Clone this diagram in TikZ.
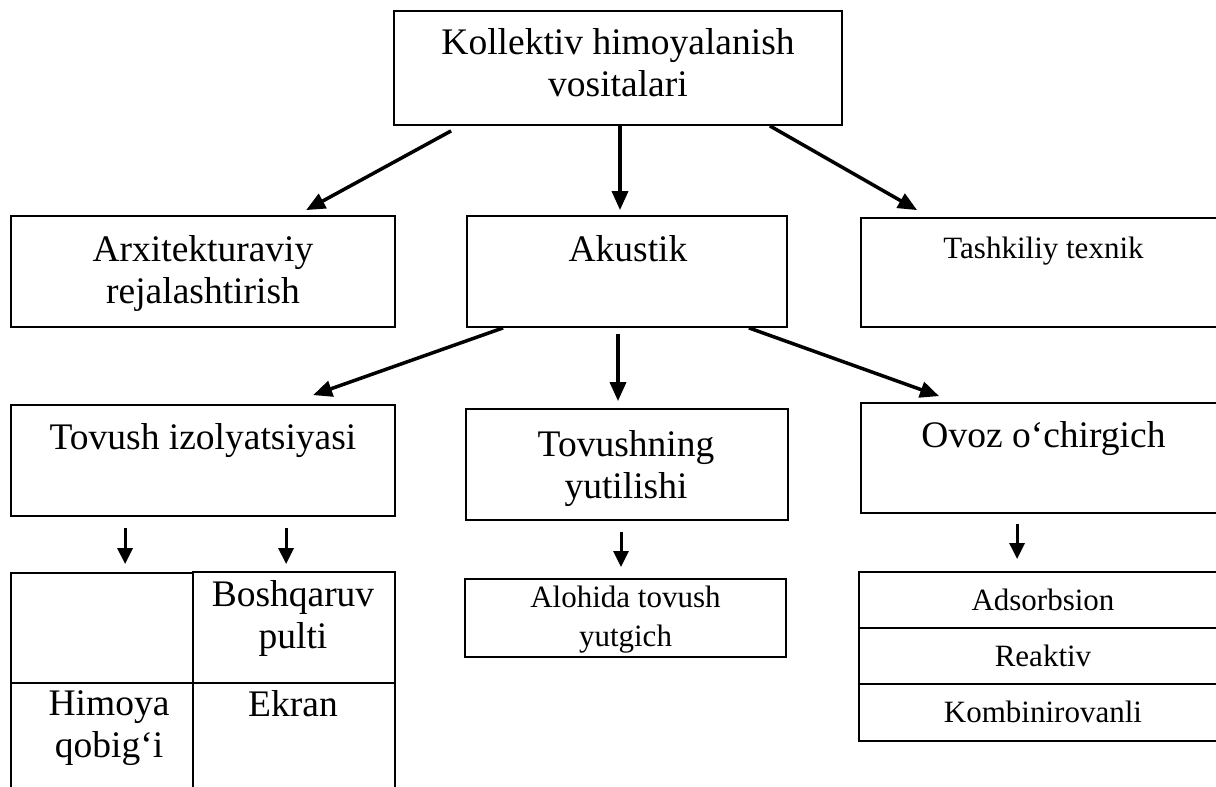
\documentclass[tikz,border=0pt]{standalone}
\usepackage{fontspec}
\setmainfont{Liberation Serif}
\usetikzlibrary{calc,arrows.meta}

\tikzset{
  box/.style={draw, line width=1.8pt, inner sep=0pt},
  big/.style={anchor=north, inner sep=0pt, align=center, font=\fontsize{37.5}{42}\selectfont},
  small/.style={anchor=north, inner sep=0pt, align=center, font=\fontsize{31}{39}\selectfont},
  arr/.style={line width=3.5pt, -{Triangle[length=19pt,width=16pt]}},
  sarr/.style={line width=3pt, -{Triangle[length=16pt,width=15pt]}}
}

\begin{document}
\begin{tikzpicture}[x=1pt, y=-1pt]

  %--- page, cut at the edges ---
  \path[use as bounding box, clip] (0,0) rectangle (1216,787);
  \fill[white] (0,0) rectangle (1216,787);

  %--- Top box ---
  \node[box, minimum width=448pt, minimum height=114pt] (kol) at (618,68) {};
  \node[big] (kolT) at ($(kol.north)+(0,18)$) {Kollektiv himoyalanish\\vositalari};

  %--- Second row ---
  \node[box, minimum width=384pt, minimum height=111pt] (arx) at (203,271.5) {};
  \node[big] (arxT) at ($(arx.north)+(0,20)$) {Arxitekturaviy\\rejalashtirish};
  \node[box, minimum width=320pt, minimum height=111pt] (akus) at (627,271.5) {};
  \node[big] (akusT) at ($(akus.north)+(1,20)$) {Akustik};
  \node[box, minimum width=365pt, minimum height=109pt] (tash) at (1043.5,272.5) {};
  \node[small] (tashT) at ($(tash.north)+(0,20)$) {Tashkiliy texnik};

  %--- Third row ---
  \node[box, minimum width=384pt, minimum height=111pt] (izo) at (203,460.5) {};
  \node[big] (izoT) at ($(izo.north)+(0,19)$) {Tovush izolyatsiyasi};
  \node[box, minimum width=322pt, minimum height=111pt] (yut) at (627,464.5) {};
  \node[big] (yutT) at ($(yut.north)+(-1,22)$) {Tovushning\\yutilishi};
  \node[box, minimum width=365pt, minimum height=110pt] (ovoz) at (1043.5,458) {};
  \node[big] (ovozT) at ($(ovoz.north)+(0,19)$) {Ovoz o‘chirgich};

  %--- Bottom left: 2 x 2 cells, open at the bottom ---
  \node[box, minimum width=182pt, minimum height=110pt] (c11) at (102,628) {};
  \node[box, minimum width=202pt, minimum height=111pt] (c12) at (294,627.5) {};
  \node[big] (c12T) at ($(c12.north)+(-1,9)$) {Boshqaruv\\pulti};
  \node[box, minimum width=182pt, minimum height=117pt] (c21) at (102,741.5) {};
  \node[big] (c21T) at ($(c21.north)+(7,8)$) {Himoya\\qobig‘i};
  \node[box, minimum width=202pt, minimum height=117pt] (c22) at (294,741.5) {};
  \node[big] (c22T) at ($(c22.north)+(-1,8)$) {Ekran};

  %--- Bottom middle ---
  \node[box, minimum width=321pt, minimum height=78pt] (alo) at (625.5,618) {};
  \node[small] (aloT) at ($(alo.north)+(0,8)$) {Alohida tovush\\yutgich};

  %--- Bottom right: stacked cells ---
  \node[box, minimum width=368pt, minimum height=56pt] (ads) at (1043,600) {};
  \node[small] (adsT) at ($(ads.north)+(0,18)$) {Adsorbsion};
  \node[box, minimum width=368pt, minimum height=56pt] (rea) at (1043,656) {};
  \node[small] (reaT) at ($(rea.north)+(0,18)$) {Reaktiv};
  \node[box, minimum width=368pt, minimum height=57pt] (kom) at (1043,712.5) {};
  \node[small] (komT) at ($(kom.north)+(0,18)$) {Kombinirovanli};

  %--- Arrows from the top box ---
  \draw[arr] ($(kol.south west)+(58,5)$) -- ($(arx.north west)+(296,-5)$);
  \draw[arr] ($(kol.south)+(2,0)$) -- ($(akus.north)+(-7,-5)$);
  \draw[arr] ($(kol.south east)+(-73,0)$) -- ($(tash.north west)+(57,-7)$);

  %--- Arrows from Akustik ---
  \draw[arr] ($(akus.south west)+(37,0)$) -- ($(izo.north west)+(303,-9)$);
  \draw[arr] ($(akus.south)+(-9,6)$) -- ($(yut.north)+(-9,-7)$);
  \draw[arr] ($(akus.south east)+(-39,0)$) -- ($(ovoz.north west)+(79,-6)$);

  %--- Short arrows down ---
  \draw[sarr] ($(izo.south west)+(115,11)$) -- ($(c11.north west)+(115,-8)$);
  \draw[sarr] ($(izo.south west)+(276,11)$) -- ($(c12.north west)+(94,-7)$);
  \draw[sarr] ($(yut.south)+(-6,11)$) -- ($(alo.north)+(-4.5,-11)$);
  \draw[sarr] ($(ovoz.south west)+(157,10)$) -- ($(ads.north west)+(159,-12)$);

\end{tikzpicture}
\end{document}
